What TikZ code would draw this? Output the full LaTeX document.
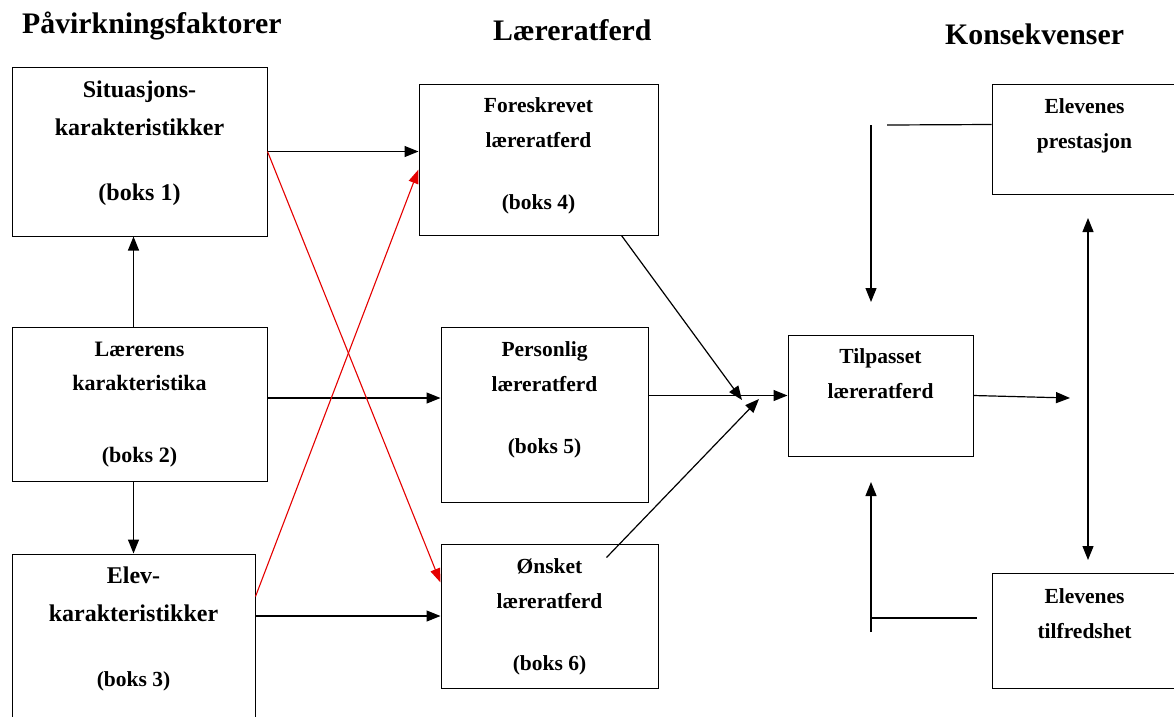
\documentclass[tikz,border=0pt]{standalone}
\usepackage{fontspec}
\setmainfont{Liberation Serif}
\usetikzlibrary{arrows.meta, positioning, calc}

\tikzset{
  box/.style={draw, line width=1pt, inner sep=0pt},
  boxtext/.style={font=\bfseries\fontsize{21.5}{35}\selectfont, align=center, inner sep=0pt},
  bigtext/.style={boxtext, font=\bfseries\fontsize{24}{38}\selectfont},
  midtext/.style={boxtext, font=\bfseries\fontsize{22}{34}\selectfont},
  head/.style={font=\bfseries\fontsize{29.8}{34}\selectfont, inner sep=0pt, anchor=base west},
  flow/.style={line width=1.2pt, -{Triangle[length=14pt,width=11pt]}},
  dflow/.style={line width=1.2pt, {Triangle[length=14pt,width=11pt]}-{Triangle[length=14pt,width=11pt]}},
  redflow/.style={line width=1.1pt, red!90!black, -{Triangle[length=14pt,width=10pt]}},
  plain/.style={line width=1.2pt},
}

\begin{document}
\begin{tikzpicture}[x=1pt, y=1pt]
                \clip (0,0) rectangle (1174,-716);
                \fill[white] (0,0) rectangle (1174,-716);

                % Headings
                \node[head] (h1) at (22,-33) {Påvirkningsfaktorer};
                \node[head] (h2) at (493,-40) {Læreratferd};
                \node[head] (h3) at (945,-44) {Konsekvenser};

                % Left column
                \node[box, minimum width=255pt, minimum height=169pt] (b1) at (139.5,-151.5) {};
                \node[bigtext, below=14pt of b1.north] (t1) {Situasjons-\\karakteristikker\\[27pt](boks 1)};
                \node[box, minimum width=255pt, minimum height=154pt] (b2) at (139.5,-404) {};
                \node[midtext, below=15pt of b2.north] (t2) {Lærerens\\karakteristika\\[38pt](boks 2)};
                \node[box, minimum width=243pt, minimum height=186pt] (b3) at (133.5,-647) {};
                \node[bigtext, below=13pt of b3.north] (t3) {Elev-\\karakteristikker\\[27pt]\fontsize{21.5}{38}\selectfont(boks 3)};

                % Middle column
                \node[box, minimum width=239pt, minimum height=151pt] (b4) at (538.5,-159.5) {};
                \node[boxtext, below=14pt of b4.north] (t4) {Foreskrevet\\læreratferd\\[27pt](boks 4)};
                \node[box, minimum width=207pt, minimum height=175pt] (b5) at (544.5,-414.5) {};
                \node[boxtext, below=15pt of b5.north] (t5) {Personlig\\læreratferd\\[27pt](boks 5)};
                \node[box, minimum width=217pt, minimum height=144pt] (b6) at (549.5,-616) {};
                \node[boxtext, below=15pt of b6.north] (t6) {Ønsket\\læreratferd\\[27pt](boks 6)};

                % Right column
                \node[box, minimum width=185pt, minimum height=121pt] (b7) at (880.5,-395.5) {};
                \node[boxtext, below=14pt of b7.north] (t7) {Tilpasset\\læreratferd};
                \node[box, minimum width=185pt, minimum height=110pt] (b8) at (1084.5,-139) {};
                \node[boxtext, below=15pt of b8.north] (t8) {Elevenes\\prestasjon};
                \node[box, minimum width=185pt, minimum height=115pt] (b9) at (1084.5,-630.5) {};
                \node[boxtext, below=16pt of b9.north] (t9) {Elevenes\\tilfredshet};

                % Free ends
                \coordinate (j1) at (742,-400);
                \coordinate (j2) at (759,-399);
                \coordinate (out) at (1070,-398);
                \coordinate (vtop) at (1088,-218);
                \coordinate (vbot) at (1088,-560);
                \coordinate (f1) at (887,-125);
                \coordinate (f2) at (871,-125);
                \coordinate (f3) at (871,-302);
                \coordinate (g1) at (871,-632);
                \coordinate (g2) at (871,-482);
                \coordinate (g3) at (977,-618);

                % Left to middle
                \draw[flow] (b2.north -| b3.north) -- (b1.south -| b3.north);
                \draw[flow] (b2.south -| b3.north) -- (b3.north);
                \draw[flow] (b1.east) -- (b1.east -| b4.west);
                \draw[flow] ($(b2.east)+(0,6)$) -- ($(b2.east -| b5.west)+(0,6)$);
                \draw[flow] (b3.east |- b6.west) -- (b6.west);
                \draw[redflow] (b1.east) -- ($(b6.north west)+(0,-39)$);
                \draw[redflow] ($(b3.north east)+(0,-43)$) -- ($(b4.north west)+(0,-86)$);

                % Middle to right
                \draw[flow] ($(b4.south west)+(203,0)$) -- (j1);
                \draw[flow] ($(b6.north west)+(166,-14)$) -- (j2);
                \draw[flow] (b7.west -| b5.east) -- (b7.west);
                \draw[flow] (b7.east) -- (out);
                \draw[dflow] (vtop) -- (vbot);

                % Feedback
                \draw[plain] ($(b8.north west)+(0,-41)$) -- (f1);
                \draw[flow] (f2) -- (f3);
                \draw[flow] (g1) -- (g2);
                \draw[plain] (g1 |- g3) -- (g3);
\end{tikzpicture}
\end{document}
